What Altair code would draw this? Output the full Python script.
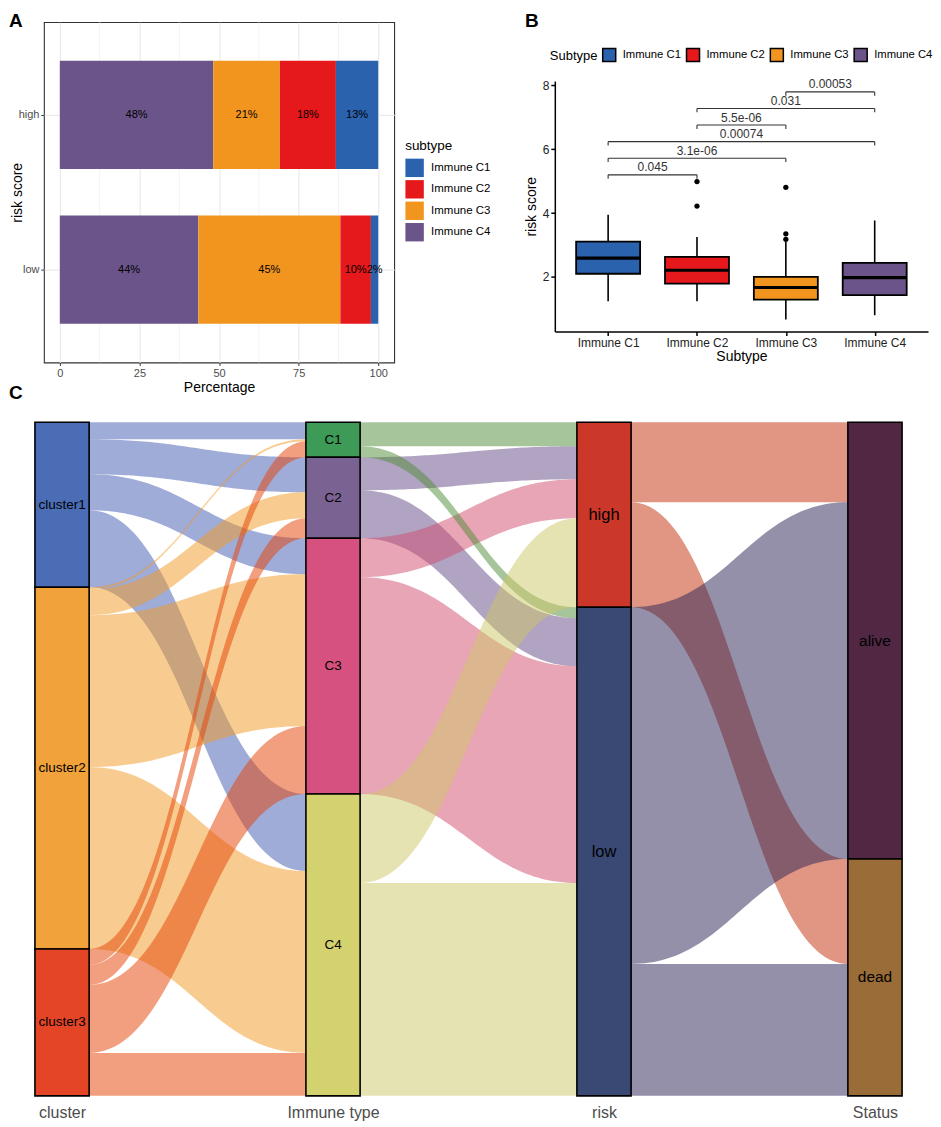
import altair as alt
import numpy as np
import pandas as pd

FONT = "Liberation Sans"

# ================= Panel A data =================
risk_levels = ["high", "low"]
subtypes = ["Immune C1", "Immune C2", "Immune C3", "Immune C4"]
subtype_colors = ["#2A62AD", "#E5191C", "#F2951F", "#6B5489"]
pct_high = [13.3, 17.6, 20.9, 48.2]
pct_low = [2.3, 9.6, 44.6, 43.5]
pct_ticks = [0, 25, 50, 75, 100]
pct_minor = [12.5, 37.5, 62.5, 87.5]

# ================= Panel B data =================
box_low = [1.24, 1.24, 0.67, 0.80]
box_q1 = [2.10, 1.79, 1.29, 1.43]
box_med = [2.59, 2.21, 1.67, 1.98]
box_q3 = [3.11, 2.63, 2.00, 2.44]
box_high = [3.95, 3.25, 3.10, 3.77]
out_group = ["Immune C2", "Immune C2", "Immune C3", "Immune C3", "Immune C3"]
out_value = [4.99, 4.22, 4.81, 3.35, 3.18]
cmp_from = ["Immune C1", "Immune C1", "Immune C1", "Immune C2", "Immune C2", "Immune C3"]
cmp_to = ["Immune C2", "Immune C3", "Immune C4", "Immune C3", "Immune C4", "Immune C4"]
cmp_p = ["0.045", "3.1e-06", "0.00074", "5.5e-06", "0.031", "0.00053"]
cmp_y = [5.20, 5.72, 6.24, 6.76, 7.28, 7.80]
score_ticks = [2, 4, 6, 8]

# ================= Panel C data =================
axis_names = ["cluster", "Immune type", "risk", "Status"]
strata = [["cluster1", "cluster2", "cluster3"],
          ["C1", "C2", "C3", "C4"],
          ["high", "low"],
          ["alive", "dead"]]
stratum_colors = [["#4A6DB6", "#F2A23A", "#E54527"],
                  ["#3E9A57", "#7A6393", "#D6517F", "#D4D26E"],
                  ["#CB3829", "#3A4874"],
                  ["#512744", "#9A6D38"]]
flow_colors = [["#4159B1", "#F19921", "#E53F01"],
               ["#4F8B35", "#634785", "#D14B6B", "#CDC767"],
               ["#C22E06", "#292155"]]
# counts flowing from stratum i (left axis) to stratum j (right axis)
seg_cluster_immune = [[17, 35, 36, 77],
                      [2, 26, 152, 182],
                      [16, 20, 68, 43]]
seg_immune_risk = [[24, 11],
                   [33, 48],
                   [39, 217],
                   [89, 213]]
seg_risk_status = [[80, 105],
                   [357, 132]]
seg_counts = [seg_cluster_immune, seg_immune_risk, seg_risk_status]
flow_draw_order = [[0, 1, 2], [1, 2, 0, 3], [0, 1]]
label_sizes = [13.5, 13.5, 16.5, 15.5]
panel_letters = ["A", "B", "C"]

# ---- layout constants (pixels) ----
ORIGIN_X = 43          # where the left column's plot area starts on the page
C_LEFT, C_RIGHT = 34, 903
B_TOP_GAP = 59         # room above the B plot for its legend
B_PLOT_H = 251


def letter(ch, dx, dy):
    return alt.Chart(pd.DataFrame({"t": [ch]})).mark_text(
        fontSize=19, fontWeight="bold", align="left", baseline="top", color="black"
    ).encode(x=alt.value(dx), y=alt.value(dy), text="t:N")


# ================= Panel A =================
rows = []
for r, vals in zip(risk_levels, [pct_high, pct_low]):
    start = 0.0
    for k in [3, 2, 1, 0]:
        v = vals[k]
        rows.append({"risk": r, "subtype": subtypes[k], "pct": v, "start": start, "end": start + v})
        start += v
df_a = pd.DataFrame(rows)

x_scale_a = alt.Scale(domain=[-5, 105], nice=False, zero=False)
y_scale_a = alt.Scale(domain=risk_levels, paddingInner=0.3, paddingOuter=0.25)
axis_x_a = alt.Axis(values=pct_ticks, title="Percentage", grid=True, gridColor="#EBEBEB", gridWidth=1.2,
                    domain=False, tickColor="#333333", tickSize=3, labelColor="#4D4D4D", labelFontSize=11,
                    labelPadding=2, titleFontSize=14, titleFontWeight="normal", titleColor="black",
                    titlePadding=2)
axis_y_a = alt.Axis(title="risk score", grid=True, gridColor="#EBEBEB", gridWidth=1.2, bandPosition=0.5,
                    domain=False, tickColor="#333333", tickSize=3, labelColor="#4D4D4D", labelFontSize=11,
                    labelPadding=2, titleFontSize=14, titleFontWeight="normal", titleColor="black",
                    titlePadding=-6)

minor_a = alt.Chart(pd.DataFrame({"v": pct_minor})).mark_rule(color="#EBEBEB", strokeWidth=0.6).encode(
    x=alt.X("v:Q", scale=x_scale_a, axis=axis_x_a))
bars_a = alt.Chart(df_a).mark_bar().encode(
    x=alt.X("start:Q", scale=x_scale_a, axis=axis_x_a),
    x2="end:Q",
    y=alt.Y("risk:N", scale=y_scale_a, axis=axis_y_a),
    color=alt.Color("subtype:N", scale=alt.Scale(domain=subtypes, range=subtype_colors),
                    legend=alt.Legend(title="subtype", orient="none", legendX=362, legendY=117,
                                      symbolType="square", symbolSize=340, symbolStrokeWidth=0,
                                      symbolOpacity=1,
                                      labelFontSize=11.5, titleFontSize=13.5, titleFontWeight="normal",
                                      rowPadding=2.5, labelOffset=7, titlePadding=6,
                                      labelColor="black", titleColor="black")))
text_a = alt.Chart(df_a).transform_calculate(
    mid="datum.start + datum.pct / 2",
    label="format(round(datum.pct), 'd') + '%'"
).mark_text(fontSize=11, color="black").encode(
    x=alt.X("mid:Q", scale=x_scale_a, axis=axis_x_a),
    y=alt.Y("risk:N", scale=y_scale_a, axis=axis_y_a),
    text="label:N")
chart_a = alt.layer(minor_a, bars_a, text_a, letter(panel_letters[0], -35, -10)).properties(
    width=351, height=341,
    view=alt.ViewBackground(stroke="#333333", strokeWidth=1.1))

# ================= Panel B =================
df_b = pd.DataFrame({"subtype": subtypes, "low": box_low, "q1": box_q1, "med": box_med,
                     "q3": box_q3, "high": box_high})
df_b["pos"] = [subtypes.index(s) + 1 for s in df_b["subtype"]]
df_out = pd.DataFrame({"subtype": out_group, "value": out_value})
df_out["pos"] = [subtypes.index(s) + 1 for s in df_out["subtype"]]
df_cmp = pd.DataFrame({"a": [subtypes.index(s) + 1 for s in cmp_from],
                       "b": [subtypes.index(s) + 1 for s in cmp_to],
                       "p": cmp_p, "h": cmp_y})
tips = []
for _, r in df_cmp.iterrows():
    for xx in (r["a"], r["b"]):
        tips.append({"x": xx, "h": r["h"], "h2": r["h"] - 0.12})
df_tips = pd.DataFrame(tips)

x_scale_b = alt.Scale(domain=[0.4, 4.6], nice=False, zero=False)
y_scale_b = alt.Scale(domain=[0.29, 8.14], nice=False, zero=False,
                      range=[B_TOP_GAP + B_PLOT_H, B_TOP_GAP])
label_expr_b = "[" + ",".join("'" + s + "'" for s in subtypes) + "][datum.value - 1]"
axis_x_b = alt.Axis(values=[1, 2, 3, 4], labelExpr=label_expr_b, title="Subtype", grid=False,
                    domainColor="black", domainWidth=1.5, tickColor="black", tickWidth=1.5, tickSize=4,
                    labelColor="#222222", labelFontSize=12, labelPadding=2, titleFontSize=14,
                    titleFontWeight="normal", titleColor="black", titlePadding=1)
axis_y_b = alt.Axis(values=score_ticks, title="risk score", grid=False,
                    domainColor="black", domainWidth=1.5, tickColor="black", tickWidth=1.5, tickSize=4,
                    labelColor="#222222", labelFontSize=12, labelPadding=2, titleFontSize=14,
                    titleFontWeight="normal", titleColor="black", titlePadding=4)

whisk_b = alt.Chart(df_b).mark_rule(color="black", strokeWidth=1.6).encode(
    x=alt.X("pos:Q", scale=x_scale_b, axis=axis_x_b),
    y=alt.Y("low:Q", scale=y_scale_b, axis=axis_y_b), y2="high:Q")
box_b = alt.Chart(df_b).transform_calculate(
    left="datum.pos - 0.36", right="datum.pos + 0.36"
).mark_rect(stroke="black", strokeWidth=1.8).encode(
    x=alt.X("left:Q", scale=x_scale_b, axis=axis_x_b), x2="right:Q",
    y=alt.Y("q1:Q", scale=y_scale_b, axis=axis_y_b), y2="q3:Q",
    fill=alt.Fill("subtype:N", scale=alt.Scale(domain=subtypes, range=subtype_colors),
                  legend=alt.Legend(title="Subtype", orient="none", legendX=-5, legendY=25,
                                    direction="horizontal", titleOrient="left",
                                    symbolType="square", symbolSize=170, symbolStrokeColor="black",
                                    symbolStrokeWidth=1.5, symbolOpacity=1,
                                    labelFontSize=11.3, titleFontSize=13,
                                    titleFontWeight="normal", columnPadding=1, labelOffset=6,
                                    titlePadding=4, labelColor="black", titleColor="black")))
med_b = alt.Chart(df_b).transform_calculate(
    left="datum.pos - 0.36", right="datum.pos + 0.36"
).mark_rule(color="black", strokeWidth=3.2).encode(
    x=alt.X("left:Q", scale=x_scale_b, axis=axis_x_b), x2="right:Q",
    y=alt.Y("med:Q", scale=y_scale_b, axis=axis_y_b))
out_b = alt.Chart(df_out).mark_circle(color="black", size=28, opacity=1).encode(
    x=alt.X("pos:Q", scale=x_scale_b, axis=axis_x_b),
    y=alt.Y("value:Q", scale=y_scale_b, axis=axis_y_b))
brk_b = alt.Chart(df_cmp).mark_rule(color="#333333", strokeWidth=1.1).encode(
    x=alt.X("a:Q", scale=x_scale_b, axis=axis_x_b), x2="b:Q",
    y=alt.Y("h:Q", scale=y_scale_b, axis=axis_y_b))
tip_b = alt.Chart(df_tips).mark_rule(color="#333333", strokeWidth=1.1).encode(
    x=alt.X("x:Q", scale=x_scale_b, axis=axis_x_b),
    y=alt.Y("h:Q", scale=y_scale_b, axis=axis_y_b), y2="h2:Q")
ptxt_b = alt.Chart(df_cmp).transform_calculate(mid="(datum.a + datum.b) / 2").mark_text(
    fontSize=12, color="#333333", baseline="bottom", dy=-0.5).encode(
    x=alt.X("mid:Q", scale=x_scale_b, axis=axis_x_b),
    y=alt.Y("h:Q", scale=y_scale_b, axis=axis_y_b),
    text="p:N")
chart_b = alt.layer(whisk_b, box_b, med_b, out_b, brk_b, tip_b, ptxt_b,
                    letter(panel_letters[1], -30, -10)).properties(
    width=374, height=B_TOP_GAP + B_PLOT_H)

# ================= Panel C (alluvial) =================
W = 0.2
totals = [[sum(r) for r in seg_counts[0]]]
for M in seg_counts:
    totals.append([sum(M[i][j] for i in range(len(M))) for j in range(len(M[0]))])
tops = [list(np.concatenate([[0], np.cumsum(t)[:-1]])) for t in totals]
grand = sum(totals[0])

srows = []
for a in range(4):
    for s, name in enumerate(strata[a]):
        top = tops[a][s]
        bot = top + totals[a][s]
        srows.append({"axis": a, "pos": a + 1, "x0": a + 1 - W / 2, "x1": a + 1 + W / 2,
                      "top": top, "bot": bot, "mid": (top + bot) / 2,
                      "label": name, "color": stratum_colors[a][s]})
df_s = pd.DataFrame(srows)

t = np.linspace(0, 1, 61)
ka = 0.45
xfrac = 3 * ka * (1 - t) ** 2 * t + 3 * (1 - ka) * (1 - t) * t ** 2 + t ** 3
yfrac = 3 * t ** 2 - 2 * t ** 3
frows = []
rank = 0
for k, M in enumerate(seg_counts):
    x0 = k + 1 + W / 2
    x1 = k + 2 - W / 2
    for i in flow_draw_order[k]:
        for j in range(len(M[i])):
            c = M[i][j]
            yl = tops[k][i] + sum(M[i][:j])
            yr = tops[k + 1][j] + sum(M[ii][j] for ii in range(i))
            fid = "f%03d" % rank
            rank += 1
            for xf, yf in zip(xfrac, yfrac):
                ytop = yl + (yr - yl) * yf
                frows.append({"fid": fid, "x": x0 + (x1 - x0) * xf, "y0": ytop, "y1": ytop + c,
                              "color": flow_colors[k][i]})
df_f = pd.DataFrame(frows)

x_scale_c = alt.Scale(domain=[0.9, 4.1], nice=False, zero=False,
                      range=[C_LEFT - ORIGIN_X, C_RIGHT - ORIGIN_X])
y_scale_c = alt.Scale(domain=[0, grand], nice=False, zero=False, reverse=True)
label_expr_c = "[" + ",".join("'" + s + "'" for s in axis_names) + "][datum.value - 1]"
axis_c = alt.Axis(values=[1, 2, 3, 4], labelExpr=label_expr_c, title=None, grid=False, domain=False,
                  ticks=False, labelColor="#4D4D4D", labelFontSize=16, labelPadding=9)

flows_c = alt.Chart(df_f).mark_area(opacity=0.5, strokeWidth=0).encode(
    x=alt.X("x:Q", scale=x_scale_c, axis=axis_c),
    y=alt.Y("y0:Q", scale=y_scale_c, axis=None), y2="y1:Q",
    detail="fid:N",
    fill=alt.Fill("color:N", scale=None))
rect_c = alt.Chart(df_s).mark_rect(stroke="black", strokeWidth=1.6).encode(
    x=alt.X("x0:Q", scale=x_scale_c, axis=axis_c), x2="x1:Q",
    y=alt.Y("top:Q", scale=y_scale_c, axis=None), y2="bot:Q",
    fill=alt.Fill("color:N", scale=None))
text_layers = []
for a in range(4):
    text_layers.append(
        alt.Chart(df_s).transform_filter(alt.datum.axis == a).mark_text(
            fontSize=label_sizes[a], color="black").encode(
            x=alt.X("pos:Q", scale=x_scale_c, axis=axis_c),
            y=alt.Y("mid:Q", scale=y_scale_c, axis=None),
            text="label:N"))
chart_c = alt.layer(flows_c, rect_c, *text_layers,
                    letter(panel_letters[2], -35, -38)).properties(
    width=C_RIGHT - ORIGIN_X, height=675)

top_row = alt.hconcat(chart_a, chart_b, spacing=32).resolve_scale(
    color="independent", fill="independent").resolve_legend(color="independent", fill="independent")

chart = alt.vconcat(top_row, chart_c, spacing=-11).resolve_scale(
    color="independent", fill="independent").resolve_legend(
    color="independent", fill="independent").properties(
    padding={"left": 0, "top": 2, "right": 0, "bottom": 0}
).configure(font=FONT).configure_view(strokeWidth=0)

chart.save("out.html", embed_options={"renderer": "svg", "actions": False})
